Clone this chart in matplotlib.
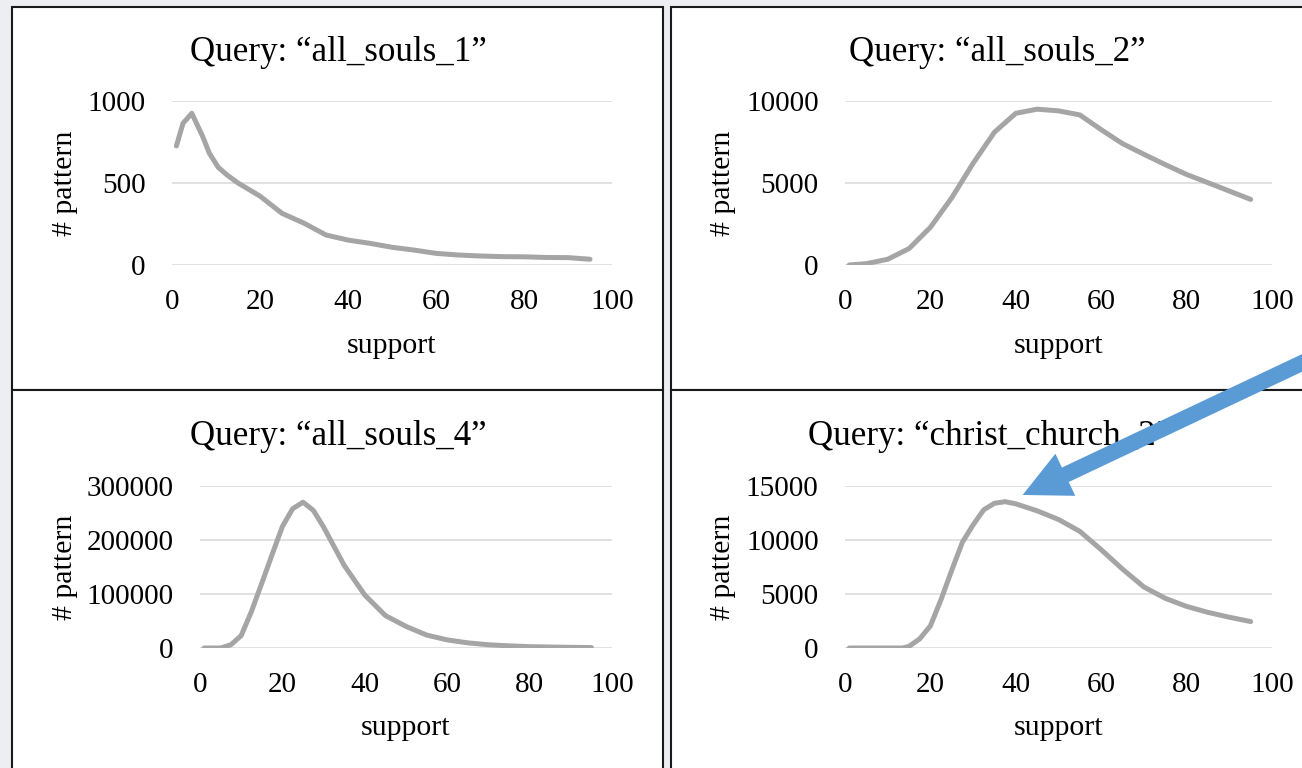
import matplotlib.pyplot as plt
from matplotlib.patches import Rectangle, ConnectionPatch

plt.rcParams['font.family'] = ['Liberation Serif', 'DejaVu Serif']

W, H = 1302, 768

# support values and pattern counts
support_1 = [1, 2.5, 4.5, 7, 8.5, 10.5, 12.5, 15, 20, 25, 30, 35, 40, 45,
             50, 55, 60, 65, 70, 75, 80, 85, 90, 95]
all_souls_1 = [726, 864, 925, 782, 681, 596, 549, 500, 420, 315, 255, 183, 152, 132,
               108, 91, 71, 61, 55, 51, 50, 46, 45, 35]

support_2 = [1, 5, 10, 15, 20, 25, 30, 35, 40, 45, 50, 55, 60, 65, 70, 75, 80, 85, 90, 95]
all_souls_2 = [0, 80, 350, 1000, 2300, 4100, 6200, 8100, 9250, 9500,
               9400, 9150, 8250, 7400, 6750, 6120, 5520, 5020, 4510, 4000]

support_4 = [1, 5, 7.5, 10, 12.5, 15, 17.5, 20, 22.5, 25, 27.5, 30, 35, 40, 45,
             50, 55, 60, 65, 70, 75, 80, 85, 90, 95]
all_souls_4 = [0, 0, 6000, 23000, 68000, 120000, 173000, 225000, 258000, 270000, 255000,
               224000, 153000, 98000, 60000, 40000, 24000, 15000, 9500, 6000,
               4000, 2500, 1800, 1200, 800]

support_cc = [1, 5, 10, 13.5, 15, 17.5, 20, 22.5, 25, 27.5, 30, 32.5, 35, 37.5, 40, 45,
              50, 55, 60, 65, 70, 75, 80, 85, 90, 95]
christ_church_2 = [0, 0, 0, 0, 150, 850, 2050, 4500, 7200, 9800, 11400, 12800, 13400,
                   13550, 13350, 12700, 11900, 10800, 9100, 7300, 5650, 4600,
                   3850, 3300, 2850, 2450]

queries = ['all_souls_1', 'all_souls_2', 'all_souls_4', 'christ_church_2']
supports = [support_1, support_2, support_4, support_cc]
counts = [all_souls_1, all_souls_2, all_souls_4, christ_church_2]
y_ticks = [[0, 500, 1000], [0, 5000, 10000],
           [0, 100000, 200000, 300000], [0, 5000, 10000, 15000]]
x_ticks = [0, 20, 40, 60, 80, 100]

# pixel layout: axes l, r, t, b / title x, baseline / ylabel right edge
layout = [
    (172, 612, 101, 265, 338, 61, 78),
    (845, 1272, 101, 265, 997, 61, 736),
    (200, 612, 486, 648, 338, 445, 78),
    (845, 1272, 486, 648, 989, 445, 736),
]
# panel frames (x0, x1, y0, y1) in pixels
frames = [(12, 663, 7, 390), (671, 1330, 7, 390),
          (12, 663, 390, 790), (671, 1330, 390, 790)]

fig = plt.figure(figsize=(W / 100, H / 100), dpi=100, facecolor='#ECEEF1')

for x0, x1, y0, y1 in frames:
    fig.add_artist(Rectangle((x0 / W, 1 - y1 / H), (x1 - x0) / W, (y1 - y0) / H,
                             transform=fig.transFigure, facecolor='white',
                             edgecolor='#1A1A1A', lw=1.5, zorder=-1))

axes = []
for q, s, c, yt, (l, r, t, b, tx, ty, lx) in zip(queries, supports, counts, y_ticks, layout):
    ax = fig.add_axes([l / W, 1 - b / H, (r - l) / W, (b - t) / H])
    ax.set_facecolor('none')
    ax.plot(s, c, color='#A5A5A5', lw=3.6,
            solid_capstyle='round', solid_joinstyle='round', zorder=3)
    ax.set_xlim(0, 100)
    ax.set_ylim(0, yt[-1])
    ax.set_xticks(x_ticks)
    ax.set_yticks(yt)
    ax.grid(axis='y', color='#D9D9D9', lw=1.1)
    ax.set_axisbelow(True)
    for sp in ax.spines.values():
        sp.set_visible(False)
    ax.tick_params(axis='both', length=0, labelsize=21, colors='black')
    ax.tick_params(axis='x', pad=17)
    ax.tick_params(axis='y', pad=19)
    ax.set_xlabel('support', fontsize=21.5)
    ax.xaxis.set_label_coords(0.5, -0.415)
    ax.set_ylabel('# pattern', fontsize=21.5)
    ax.yaxis.set_label_coords((lx - l) / (r - l), 0.5)
    fig.text(tx / W, 1 - ty / H, 'Query: \u201c%s\u201d' % q,
             ha='center', va='baseline', fontsize=25.2)
    axes.append(ax)

# arrow pointing at the christ_church_2 peak
arrow = ConnectionPatch(xyA=(1340 / W, 1 - 345 / H), coordsA='figure fraction',
                        xyB=(41.6, 14170), coordsB='data', axesB=axes[3],
                        arrowstyle='simple,head_length=3.4,head_width=3.35,tail_width=1.15',
                        mutation_scale=10, shrinkA=0, shrinkB=0,
                        color='#5B9BD5', lw=0, zorder=10)
fig.add_artist(arrow)

fig.savefig('out.png', dpi=100, facecolor=fig.get_facecolor())
